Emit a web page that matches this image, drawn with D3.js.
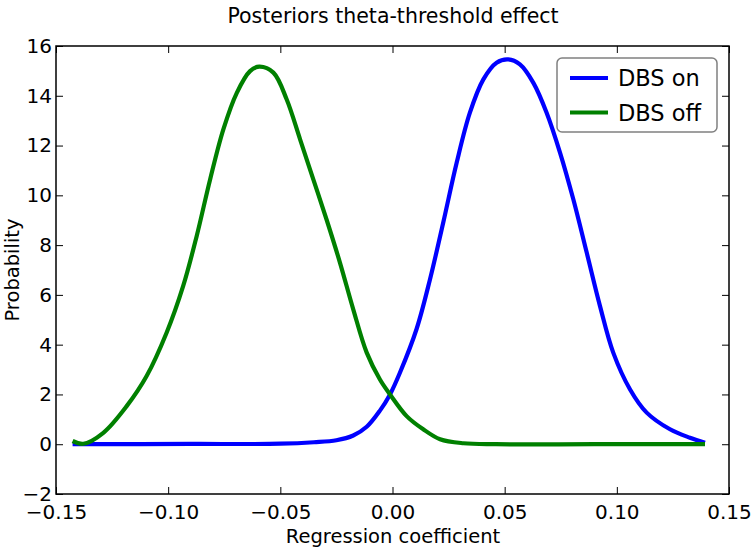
<!DOCTYPE html>
<html>
<head>
<meta charset="utf-8">
<script src="https://cdn.jsdelivr.net/npm/d3@7"></script>
<style>
  html, body { margin: 0; padding: 0; background: #fff; }
  svg { display: block; }
  text { font-family: "DejaVu Sans", sans-serif; fill: #000; }
</style>
</head>
<body>
<svg id="chart" width="756" height="552"></svg>
<script>
// ---- data ----
const onX  = [-0.1426, -0.09, -0.05, -0.035, -0.025, -0.0175, -0.0115, -0.0056, -0.0011, 0.0033, 0.0107, 0.0167, 0.0226, 0.0286, 0.0345, 0.0405, 0.0464, 0.0516, 0.0568, 0.0628, 0.0687, 0.0747, 0.0806, 0.0866, 0.0925, 0.0984, 0.1059, 0.1133, 0.1237, 0.1326, 0.1393];
const onY  = [0.0, 0.01, 0.02, 0.08, 0.16, 0.35, 0.7, 1.35, 2.0, 2.87, 4.62, 6.62, 8.9, 11.31, 13.32, 14.66, 15.33, 15.46, 15.26, 14.52, 13.32, 11.71, 9.84, 7.69, 5.55, 3.68, 2.2, 1.27, 0.6, 0.26, 0.06];
const offX = [-0.1426, -0.1378, -0.1289, -0.1185, -0.1096, -0.1007, -0.0933, -0.0873, -0.0813, -0.0754, -0.0694, -0.0635, -0.0594, -0.0531, -0.0472, -0.0412, -0.0353, -0.0294, -0.0234, -0.0175, -0.0115, -0.0056, -0.0011, 0.0063, 0.0137, 0.0212, 0.0316, 0.046, 0.09, 0.1393];
const offY = [0.13, 0.02, 0.46, 1.53, 2.74, 4.48, 6.36, 8.36, 10.64, 12.65, 14.12, 14.99, 15.17, 14.93, 13.86, 12.25, 10.64, 9.03, 7.29, 5.42, 3.68, 2.6, 2.0, 1.13, 0.6, 0.2, 0.04, 0.0, 0.0, 0.0];
const xTicks = [-0.15, -0.10, -0.05, 0.00, 0.05, 0.10, 0.15];
const yTicks = [-2, 0, 2, 4, 6, 8, 10, 12, 14, 16];
const seriesNames = ["DBS on", "DBS off"];
const seriesColors = ["#0000ff", "#008000"];
const title = "Posteriors theta-threshold effect";
const xLabel = "Regression coefficient";
const yLabel = "Probability";

// ---- layout ----
const L = 56, R = 729, T = 46, B = 494;
const svg = d3.select("#chart");
const x = d3.scaleLinear().domain([-0.15, 0.15]).range([L, R]);
const y = d3.scaleLinear().domain([-2, 16]).range([B, T]);

const fmtX = v => (v < 0 ? "\u2212" : "") + Math.abs(v).toFixed(2);
const fmtY = v => (v < 0 ? "\u2212" : "") + Math.abs(v);

// lines
const line = d3.line().x(d => x(d[0])).y(d => y(d[1])).curve(d3.curveCatmullRom.alpha(0.5));
const series = [
  onX.map((v, i) => [v, onY[i]]),
  offX.map((v, i) => [v, offY[i]])
];
const g = svg.append("g");
g.append("defs").append("clipPath").attr("id", "clip")
  .append("rect").attr("x", L).attr("y", T).attr("width", R - L).attr("height", B - T);
series.forEach((s, i) => {
  g.append("path").datum(s).attr("d", line)
    .attr("fill", "none").attr("stroke", seriesColors[i])
    .attr("stroke-width", 4.2).attr("stroke-linejoin", "round").attr("stroke-linecap", "butt")
    .attr("clip-path", "url(#clip)");
});

// axes (inward ticks)
const tk = 7;
const axB = d3.axisBottom(x).tickValues(xTicks).tickFormat(fmtX).tickSizeInner(-tk).tickSizeOuter(0).tickPadding(11);
const axT = d3.axisTop(x).tickValues(xTicks).tickFormat("").tickSizeInner(-tk).tickSizeOuter(0);
const axL = d3.axisLeft(y).tickValues(yTicks).tickFormat(fmtY).tickSizeInner(-tk).tickSizeOuter(0).tickPadding(4);
const axR = d3.axisRight(y).tickValues(yTicks).tickFormat("").tickSizeInner(-tk).tickSizeOuter(0);

function styleAxis(sel) {
  sel.select(".domain").remove();
  sel.selectAll(".tick line").attr("stroke", "#000").attr("stroke-width", 1);
  sel.selectAll(".tick text").attr("font-family", "DejaVu Sans").attr("font-size", 20).attr("fill", "#000");
}
svg.append("g").attr("transform", `translate(0,${B})`).call(axB).call(styleAxis);
svg.append("g").attr("transform", `translate(0,${T})`).call(axT).call(styleAxis);
svg.append("g").attr("transform", `translate(${L},0)`).call(axL).call(styleAxis);
svg.append("g").attr("transform", `translate(${R},0)`).call(axR).call(styleAxis);

// frame
svg.append("rect").attr("x", L).attr("y", T).attr("width", R - L).attr("height", B - T)
  .attr("fill", "none").attr("stroke", "#000").attr("stroke-width", 1.5);

// title & labels
svg.append("text").attr("x", 393).attr("y", 23).attr("text-anchor", "middle")
  .attr("font-size", 20.5).text(title);
svg.append("text").attr("x", 393).attr("y", 543).attr("text-anchor", "middle")
  .attr("font-size", 19.5).text(xLabel);
svg.append("text").attr("transform", `translate(19,${(T + B) / 2}) rotate(-90)`)
  .attr("text-anchor", "middle").attr("font-size", 19.5).text(yLabel);

// legend
const lg = svg.append("g");
lg.append("rect").attr("x", 557).attr("y", 58).attr("width", 160).attr("height", 74)
  .attr("rx", 5).attr("fill", "#fff").attr("stroke", "#808080").attr("stroke-width", 1.5);
seriesNames.forEach((n, i) => {
  const yy = 78 + i * 34.5;
  lg.append("line").attr("x1", 570).attr("x2", 608).attr("y1", yy).attr("y2", yy)
    .attr("stroke", seriesColors[i]).attr("stroke-width", 4.2);
  lg.append("text").attr("x", 618).attr("y", yy + 8.3).attr("font-size", 22.5).text(n);
});
</script>
</body>
</html>
